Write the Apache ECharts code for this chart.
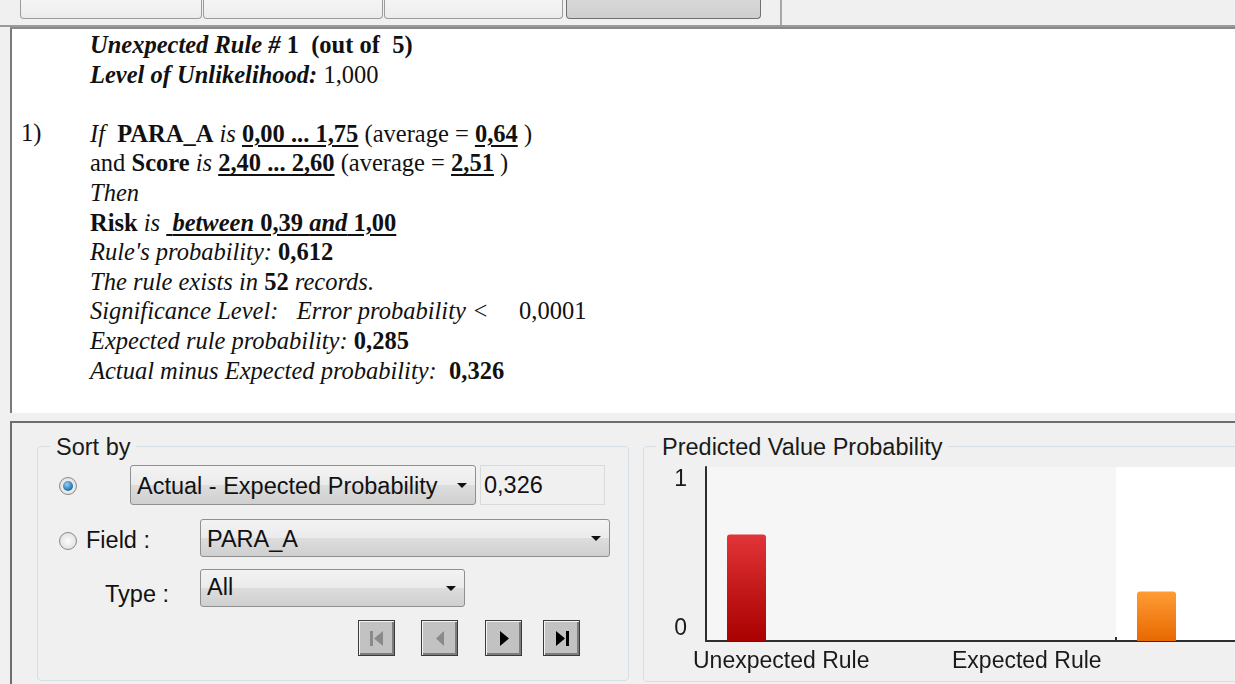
<!DOCTYPE html>
<html>
<head>
<meta charset="utf-8">
<script src="https://cdn.jsdelivr.net/npm/echarts@6/dist/echarts.min.js"></script>
<style>
  html, body { margin: 0; padding: 0; width: 1235px; height: 684px; overflow: hidden; background: #f0f0f0; font-family: "Liberation Sans", Arial, sans-serif; }
  .abs { position: absolute; }
  .tab { position: absolute; top: -6px; height: 24px; border: 1px solid #9c9c9c; border-top: none; border-radius: 0 0 4px 4px; background: linear-gradient(#f7f7f7, #ececec); }
  .tab.sel { background: linear-gradient(#dadada, #cfcfcf); border-color: #707070; }
  #rule { position: absolute; left: 10px; top: 27px; width: 1225px; height: 384px; background: #fff; border-left: 2px solid #7a7a7a; border-top: 2px solid #8a8a8a; }
  #ruleText { position: absolute; left: 78px; top: 1px; font-family: "Liberation Serif", "Times New Roman", serif; font-size: 24.5px; line-height: 29.6px; color: #111; white-space: pre; }
  #ruleText u { text-decoration-thickness: 2px; text-underline-offset: 3px; }
  #num { position: absolute; left: 9px; top: 89px; font-family: "Liberation Serif", serif; font-size: 24.5px; line-height: 29.6px; color: #111; }
  #bottom { position: absolute; left: 10px; top: 421px; width: 1225px; height: 263px; border-left: 2px solid #6e6e6e; border-top: 2px solid #6e6e6e; }
  .group { position: absolute; border: 1px solid #d5dfe5; border-radius: 4px; }
  .gtitle { position: absolute; background: #f0f0f0; padding: 0 6px; font-size: 23.5px; color: #1a1a1a; line-height: 26px; }
  .combo { position: absolute; border: 1px solid #8e8f8f; border-radius: 3px; background: linear-gradient(#f3f3f3 0%, #ebebeb 50%, #dddddd 51%, #cfcfcf 100%); font-size: 23.5px; color: #111; box-sizing: border-box; padding-left: 6px; }
  .combo .arr { position: absolute; right: 8px; top: 50%; margin-top: -2px; width: 0; height: 0; border-left: 5px solid transparent; border-right: 5px solid transparent; border-top: 5px solid #111; }
  .label { position: absolute; font-size: 23.5px; color: #111; }
  .radio { position: absolute; width: 16px; height: 16px; border-radius: 50%; border: 1px solid #8a8a8a; background: radial-gradient(#fdfdfd, #d8d8d8); }
  .radio.on::after { content: ""; position: absolute; left: 3px; top: 3px; width: 10px; height: 10px; border-radius: 50%; background: radial-gradient(circle at 40% 35%, #8fd0f5, #1c6fa8 70%, #0d4a7a); }
  .nav { position: absolute; top: 620px; width: 37px; height: 36px; box-sizing: border-box; background: #c2c2c2; border: 1px solid #3a3a3a; box-shadow: inset 1px 1px 0 #f4f4f4, inset -2px -2px 0 #7c7c7c; }
  .nav svg { position: absolute; left: 0; top: 0; }
  #chartBox { position: absolute; left: 643px; top: 446px; width: 620px; height: 234px; }
  #chart { position: absolute; left: 643px; top: 446px; width: 900px; height: 238px; }
</style>
</head>
<body>
<!-- tab strip -->
<div class="tab" style="left:20px;width:180px"></div>
<div class="tab" style="left:203px;width:178px"></div>
<div class="tab" style="left:384px;width:177px"></div>
<div class="tab sel" style="left:566px;width:193px"></div>
<div class="abs" style="left:780px;top:0;width:2px;height:26px;background:#a8a8a8"></div>
<div class="abs" style="left:0;top:25px;width:1235px;height:2px;background:#9a9a9a"></div>

<!-- rule description -->
<div id="rule">
<div id="num">1)</div>
<div id="ruleText"><b><i>Unexpected Rule # </i>1  (out of  5)</b>
<b><i>Level of Unlikelihood:</i></b> 1,000

<i>If </i> <b>PARA_A</b> <i>is</i> <b><u>0,00 ... 1,75</u></b> (average = <b><u>0,64</u></b> )
and <b>Score</b> <i>is</i> <b><u>2,40 ... 2,60</u></b> (average = <b><u>2,51</u></b> )
<i>Then</i>
<b>Risk</b> <i>is</i> <b><u> <i>between</i> 0,39 <i>and</i> 1,00</u></b>
<i>Rule's probability: </i><b>0,612</b>
<i>The rule exists in </i><b>52</b><i> records.</i>
<i>Significance Level:   Error probability &lt;     </i>0,0001
<i>Expected rule probability: </i><b>0,285</b>
<i>Actual minus Expected probability:  </i><b>0,326</b></div>
</div>

<div id="bottom"></div>

<!-- sort by group -->
<div class="group" style="left:37px;top:446px;width:590px;height:233px"></div>
<div class="gtitle" style="left:50px;top:434px">Sort by</div>
<div class="radio on" style="left:59px;top:477px"></div>
<div class="combo" style="left:130px;top:465px;width:346px;height:40px;line-height:40px">Actual - Expected Probability<span class="arr"></span></div>
<div class="abs" style="left:480px;top:465px;width:125px;height:40px;box-sizing:border-box;border:1px solid #dadada;background:#f0f0f0;font-size:23.5px;line-height:38px;padding-left:3px;color:#111">0,326</div>
<div class="radio" style="left:59px;top:532px"></div>
<div class="label" style="left:86px;top:527px">Field :</div>
<div class="combo" style="left:200px;top:519px;width:410px;height:38px;line-height:38px">PARA_A<span class="arr"></span></div>
<div class="label" style="left:105px;top:581px">Type :</div>
<div class="combo" style="left:200px;top:569px;width:265px;height:38px;line-height:34px">All<span class="arr"></span></div>

<div class="nav" style="left:358px"><svg width="37" height="36"><rect x="11" y="10" width="3" height="15" fill="#8a8a8a"/><polygon points="24,10 24,25 15,17.5" fill="#8a8a8a"/></svg></div>
<div class="nav" style="left:421px"><svg width="37" height="36"><polygon points="22,10 22,25 14,17.5" fill="#8a8a8a"/></svg></div>
<div class="nav" style="left:485px"><svg width="37" height="36"><polygon points="14,10 14,25 23,17.5" fill="#000"/></svg></div>
<div class="nav" style="left:543px"><svg width="37" height="36"><polygon points="12,10 12,25 21,17.5" fill="#000"/><rect x="22" y="10" width="3" height="15" fill="#000"/></svg></div>

<!-- chart group -->
<div class="group" id="chartBox"></div>
<div class="gtitle" style="left:656px;top:434px">Predicted Value Probability</div>
<div id="chart"></div>

<script>
// values
const categories = ['Unexpected Rule', 'Expected Rule'];
const probabilities = [0.612, 0.285];
const yTicks = [0, 1];

const barGradients = [
  ['#e13438', '#a90000'],
  ['#ff9c35', '#e86800']
];

const chart = echarts.init(document.getElementById('chart'), null, { renderer: 'canvas' });

const option = {
  animation: false,
  backgroundColor: 'transparent',
  grid: { left: 63, top: 21, width: 820, height: 174, containLabel: false },
  xAxis: {
    type: 'category',
    data: categories,
    axisLine: { show: true, lineStyle: { color: '#2e2e2e', width: 2 } },
    axisTick: { show: true, inside: true, length: 4, lineStyle: { color: '#2e2e2e', width: 2 } },
    axisLabel: { show: false },
    splitArea: { show: true, areaStyle: { color: ['#f6f6f6', '#ffffff'] } },
    splitLine: { show: false }
  },
  yAxis: {
    type: 'value',
    min: yTicks[0],
    max: yTicks[yTicks.length - 1],
    interval: 1,
    axisLine: { show: true, lineStyle: { color: '#2e2e2e', width: 2 } },
    axisTick: { show: false },
    splitLine: { show: false },
    axisLabel: {
      margin: 19,
      color: '#1a1a1a',
      fontSize: 23,
      fontFamily: 'Liberation Sans',
      formatter: function (v) { return v === 1 ? '{hi|1}' : '{lo|0}'; },
      rich: {
        hi: { padding: [26, 0, 0, 0], fontSize: 23, color: '#1a1a1a' },
        lo: { padding: [0, 0, 24, 0], fontSize: 23, color: '#1a1a1a' }
      }
    }
  },
  series: [
    {
      type: 'bar',
      barWidth: 39,
      barGap: '0%',
      data: probabilities.map((v, i) => ({
        value: v,
        itemStyle: {
          borderRadius: [3, 3, 0, 0],
          color: new echarts.graphic.LinearGradient(0, 0, 0, 1, [
            { offset: 0, color: barGradients[i][0] },
            { offset: 1, color: barGradients[i][1] }
          ])
        }
      }))
    },
    {
      // empty slot so the bar sits at the left of its band
      type: 'bar',
      barWidth: 329,
      data: categories.map(() => '-'),
      itemStyle: { color: 'transparent' },
      silent: true
    }
  ],
  graphic: categories.map((name, i) => ({
    type: 'text',
    left: [50, 309][i],
    top: 204,
    style: { text: name, fontSize: 23, fontFamily: 'Liberation Sans', fill: '#1a1a1a' }
  }))
};

chart.setOption(option);
</script>
</body>
</html>
